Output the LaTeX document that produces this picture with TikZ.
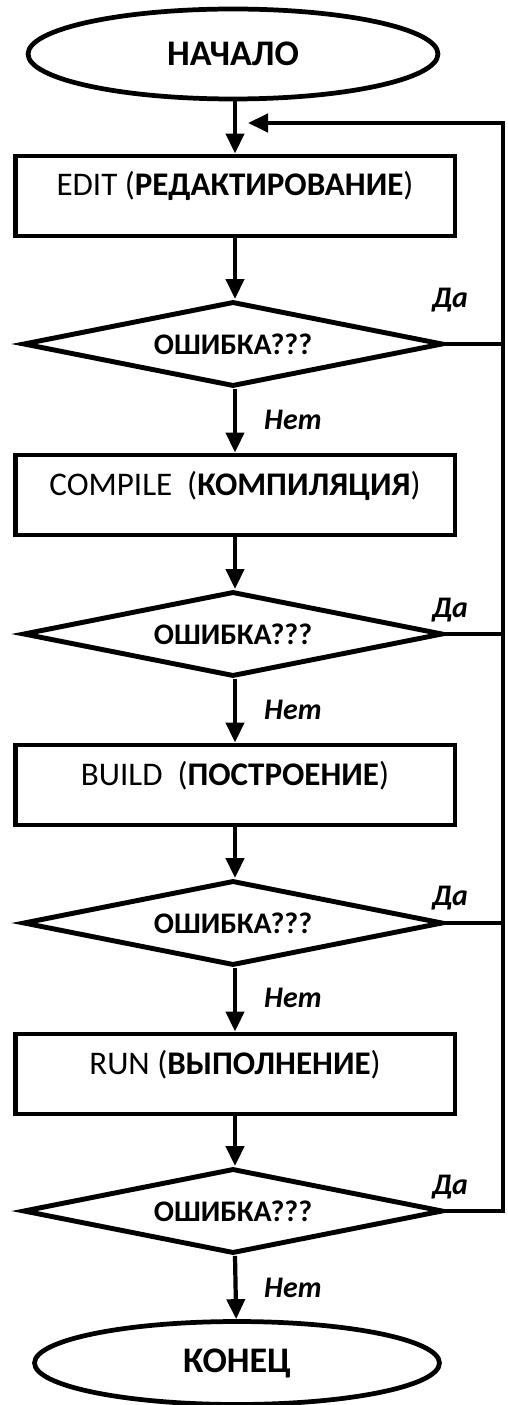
\documentclass[tikz,border=0pt]{standalone}
\usepackage{fontspec}
\setmainfont{Carlito}
\usepackage{tikz}
\usetikzlibrary{shapes.geometric, arrows.meta}

\begin{document}
\begin{tikzpicture}[x=0.02cm, y=-0.02cm,
  wire/.style={line width=2.4pt},
  arr/.style={wire, -{Triangle[length=0.4cm, width=0.36cm]}},
  term/.style={draw, ellipse, line width=2.7pt, inner sep=0pt,
    minimum width=8.2cm, minimum height=1.8cm,
    font=\fontsize{20.5}{24}\selectfont\bfseries},
  stage/.style={draw, rectangle, line width=2.8pt, inner sep=0pt,
    minimum width=8.8cm, minimum height=1.6cm,
    text height=0.42cm, text depth=0.42cm,
    font=\fontsize{18.8}{22}\selectfont},
  check/.style={draw, diamond, aspect=5, line width=2.8pt, inner sep=0pt,
    minimum width=8.4cm, minimum height=1.7cm,
    font=\fontsize{17}{20}\selectfont\bfseries},
  lbl/.style={font=\fontsize{17}{20}\selectfont\bfseries\itshape}]
\useasboundingbox (0,0) rectangle (507,1405);
%% blocks
\node[term] (start) at (233,54) {НАЧАЛО};
\node[stage] (edit) at (235,196) {EDIT (\textbf{РЕДАКТИРОВАНИЕ})};
\node[check] (err1) at (233,344) {ОШИБКА???};
\node[stage] (compile) at (235,495) {COMPILE\ \ (\textbf{КОМПИЛЯЦИЯ})};
\node[check] (err2) at (233,634) {ОШИБКА???};
\node[stage] (build) at (235,785) {BUILD\ \ (\textbf{ПОСТРОЕНИЕ})};
\node[check] (err3) at (233,923) {ОШИБКА???};
\node[stage] (run) at (235,1074) {RUN (\textbf{ВЫПОЛНЕНИЕ})};
\node[check] (err4) at (233,1211) {ОШИБКА???};
\node[term, minimum width=8.1cm, minimum height=1.66cm] (stop) at (237,1363) {КОНЕЦ};
%% labels
\node[lbl] (yes1) at (450,300) {Да};
\node[lbl] (yes2) at (450,610) {Да};
\node[lbl] (yes3) at (450,898) {Да};
\node[lbl] (yes4) at (450,1187) {Да};
\node[lbl] (no1) at (293,420) {Нет};
\node[lbl] (no2) at (293,710) {Нет};
\node[lbl] (no3) at (293,998) {Нет};
\node[lbl] (no4) at (293,1288) {Нет};
%% flow
\draw[arr] (start.south -| edit) -- (edit);
\draw[arr] (edit) -- (edit |- err1.north);
\draw[arr] (edit |- err1.south) -- (compile);
\draw[arr] (compile) -- (compile |- err2.north);
\draw[arr] (compile |- err2.south) -- (build);
\draw[arr] (build) -- (build |- err3.north);
\draw[arr] (build |- err3.south) -- (run);
\draw[arr] (run) -- (run |- err4.north);
\draw[arr] (run |- err4.south) -- (stop);
%% back loop
\coordinate (rail) at (503,123);
\coordinate (back) at (248,123);
\draw[wire] (err1.east) -- (err1.east -| rail);
\draw[wire] (err2.east) -- (err2.east -| rail);
\draw[wire] (err3.east) -- (err3.east -| rail);
\draw[arr] (err4.east) -| (rail) -- (back);
\end{tikzpicture}
\end{document}
